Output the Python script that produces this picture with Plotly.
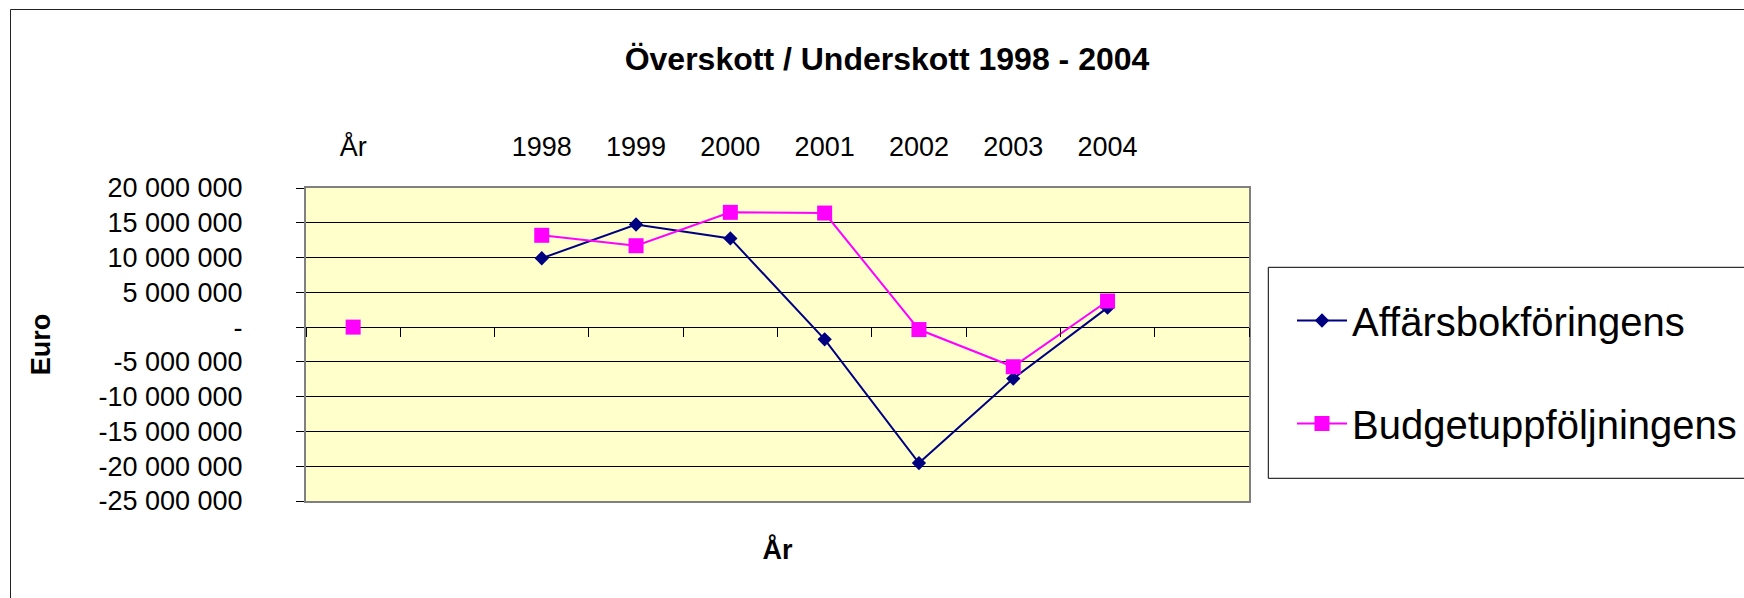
import plotly.graph_objects as go

# ---------------- data ----------------
categories = ["År", "", "1998", "1999", "2000", "2001", "2002", "2003", "2004", ""]
affarsbokforingens = [None, None, 9.9e6, 14.75e6, 12.75e6, -1.75e6, -19.55e6, -7.4e6, 2.8e6, None]
budgetuppfoljningens = [0, None, 13.2e6, 11.7e6, 16.5e6, 16.4e6, -0.35e6, -5.7e6, 3.75e6, None]

y_tick_values = [20e6, 15e6, 10e6, 5e6, 0, -5e6, -10e6, -15e6, -20e6, -25e6]
y_tick_labels = ["20 000 000", "15 000 000", "10 000 000", "5 000 000", "-",
                 "-5 000 000", "-10 000 000", "-15 000 000", "-20 000 000", "-25 000 000"]

title_text = "Överskott / Underskott 1998 - 2004"
x_title = "År"
y_title = "Euro"
series_names = ["Affärsbokföringens", "Budgetuppföljningens"]

# ---------------- figure ----------------
FONT = "Liberation Sans, Arial, sans-serif"
positions = list(range(len(categories)))
boundaries = [p - 0.5 for p in positions] + [positions[-1] + 0.5]
x_range = [positions[0] - 0.5, positions[-1] + 0.5]
y_range = [min(y_tick_values), max(y_tick_values)]
zero_frac = (0 - y_range[0]) / (y_range[1] - y_range[0])

fig = go.Figure()
fig.add_trace(go.Scatter(
    x=positions, y=affarsbokforingens, name=series_names[0], mode="lines+markers",
    line=dict(color="#000080", width=2),
    marker=dict(symbol="diamond", size=11, color="#000080"),
    connectgaps=False, legendgroup="a"))
fig.add_trace(go.Scatter(
    x=positions, y=budgetuppfoljningens, name=series_names[1], mode="lines+markers",
    line=dict(color="#FF00FF", width=2),
    marker=dict(symbol="square", size=15, color="#FF00FF"),
    connectgaps=False, legendgroup="b"))
# empty helper traces so the category-label axis (top) and the tick axis on the zero line are drawn
fig.add_trace(go.Scatter(x=positions, y=[None] * len(positions), xaxis="x2", yaxis="y",
                         mode="markers", showlegend=False, hoverinfo="skip"))
fig.add_trace(go.Scatter(x=positions, y=[None] * len(positions), xaxis="x3", yaxis="y",
                         mode="markers", showlegend=False, hoverinfo="skip"))

# figure a little wider than the window; the frames run off the right edge like the original
W, H = 1758, 598
ML, MT, MB = 306, 188, 97
MR = W - 1249
PW = W - ML - MR
PH = H - MT - MB

def px_x(px):
    return (px - ML) / PW

def px_y(py):
    return (H - MB - py) / PH

fig.update_layout(
    width=W, height=H,
    margin=dict(l=ML, r=MR, t=MT, b=MB, pad=0),
    paper_bgcolor="white",
    plot_bgcolor="#FFFFCC",
    font=dict(family=FONT, color="black"),
    title=dict(text=title_text, x=887 / W, xref="container", xanchor="center",
               y=1 - 59 / H, yref="container", yanchor="middle",
               font=dict(size=32, family=FONT, weight="bold", color="black")),
    xaxis=dict(
        range=x_range, showticklabels=False, ticks="", showgrid=False, zeroline=False,
        showline=True, mirror=True, linecolor="#808080", linewidth=2,
        title=dict(text=x_title, standoff=38,
                   font=dict(size=27, family=FONT, weight="bold")),
        automargin=False),
    xaxis2=dict(
        overlaying="x", anchor="y", side="top", range=x_range,
        tickmode="array", tickvals=positions, ticktext=categories,
        ticks="", showgrid=False, zeroline=False, showline=False,
        tickfont=dict(size=27, family=FONT), ticklabelstandoff=26,
        automargin=False),
    xaxis3=dict(
        overlaying="x", anchor="free", position=zero_frac, side="bottom", range=x_range,
        tickmode="array", tickvals=boundaries, ticks="outside", ticklen=9,
        tickwidth=1, tickcolor="black", showticklabels=False,
        showgrid=False, zeroline=False, showline=False, automargin=False),
    yaxis=dict(
        range=y_range, tickmode="array", tickvals=y_tick_values, ticktext=y_tick_labels,
        ticks="outside", ticklen=8, tickwidth=1, tickcolor="black",
        showgrid=True, gridcolor="black", gridwidth=1, zeroline=False,
        showline=True, mirror=True, linecolor="#808080", linewidth=2,
        tickfont=dict(size=27, family=FONT), ticklabelstandoff=48,
        title=dict(text=y_title, standoff=40,
                   font=dict(size=27, family=FONT, weight="bold")),
        automargin=False),
    showlegend=True,
    legend=dict(
        x=px_x(1292), xanchor="left", y=px_y(288), yanchor="top",
        bgcolor="rgba(0,0,0,0)", borderwidth=0,
        font=dict(size=40, family=FONT, color="black"),
        itemwidth=50, traceorder="grouped", tracegroupgap=48),
    shapes=[
        # legend frame (continues past the right edge of the picture)
        dict(type="rect", xref="paper", yref="paper",
             x0=px_x(1268.3), x1=px_x(1780), y0=px_y(478.3), y1=px_y(267.3),
             line=dict(color="black", width=1), fillcolor="rgba(0,0,0,0)", layer="below"),
        # chart area frame (continues past the right and bottom edges)
        dict(type="rect", xref="paper", yref="paper",
             x0=px_x(10.5), x1=px_x(1780), y0=px_y(603), y1=px_y(9.5),
             line=dict(color="#222222", width=1), fillcolor="rgba(0,0,0,0)", layer="below"),
    ],
)

fig.write_html("out.html", config={"displayModeBar": False},
               default_width=f"{W}px", default_height=f"{H}px",
               post_script="document.body.style.margin='0px';")
